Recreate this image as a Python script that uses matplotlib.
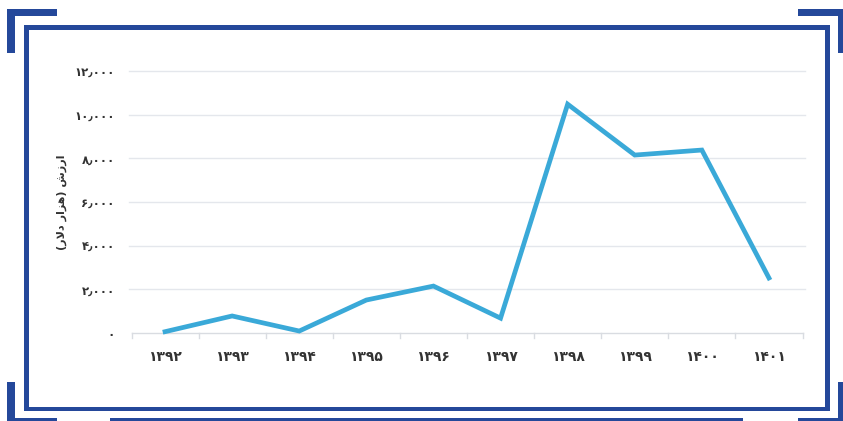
import matplotlib
matplotlib.use("Agg")
import matplotlib.pyplot as plt
from matplotlib.lines import Line2D
from matplotlib.patches import Rectangle

years = ["1392", "1393", "1394", "1395", "1396", "1397", "1398", "1399", "1400", "1401"]
values = [60, 780, 90, 1510, 2150, 680, 10480, 8150, 8380, 2520]
yticks = [0, 2000, 4000, 6000, 8000, 10000, 12000]

PD = str.maketrans("0123456789", "۰۱۲۳۴۵۶۷۸۹")

def fa_num(v):
    if v == 0:
        return "۰"
    s = f"{v:,}".replace(",", "٫")
    return s.translate(PD)

# "ارزش (هزار دلار)" pre-shaped in visual (left-to-right) order
ylabel = "(" + "\uFEAD\uFEFB\uFEA9" + " " + "\uFEAD\uFE8D\uFEB0\uFEEB" + ") " + "\uFEB5\uFEAF\uFEAD\uFE8D"

W, H = 843, 421
fig = plt.figure(figsize=(W / 100, H / 100), dpi=100)
fig.patch.set_facecolor("white")

# decoration layer in pixel coordinates
deco = fig.add_axes([0, 0, 1, 1])
deco.set_xlim(0, W)
deco.set_ylim(H, 0)
deco.axis("off")
blue = "#24489A"

def rect(x0, y0, x1, y1, c=blue):
    deco.add_patch(Rectangle((x0, y0), x1 - x0, y1 - y0, color=c, lw=0))

# inner box
rect(24, 25, 830, 30)
rect(24, 25, 29, 411)
rect(825, 25, 830, 411)
rect(24, 407, 830, 411)
# corner brackets
rect(7, 9, 57, 16)
rect(7, 9, 15, 53)
rect(798, 9, 843, 16)
rect(838, 9, 843, 53)
rect(7, 382, 15, 421)
rect(7, 418, 57, 421)
rect(838, 382, 843, 421)
rect(798, 418, 843, 421)
rect(110, 418, 743, 421)

# chart
ax = fig.add_axes([131.5 / W, 1 - 333 / H, (802.5 - 131.5) / W, (333 - 71) / H])
ax.set_facecolor("none")
x = list(range(len(years)))
ax.plot(x, values, color="#3AA9D8", lw=3.4, solid_joinstyle="miter", zorder=3, clip_on=False)
ax.set_xlim(-0.5, len(years) - 0.5)
ax.set_ylim(0, 12000)
ax.set_yticks(yticks)
ax.set_yticklabels([fa_num(v) for v in yticks], fontsize=8.5, fontweight="bold",
                   color="#333333", family="DejaVu Sans")
ax.set_xticks(x)
ax.set_xticklabels([y.translate(PD) for y in years], fontsize=10, fontweight="bold",
                   color="#333333", family="DejaVu Sans")
ax.tick_params(axis="y", length=0, pad=12)
ax.tick_params(axis="x", length=0, pad=12)
for v in yticks[1:]:
    ax.axhline(v, xmin=-0.003, xmax=1.004, color="#E4E7EC", lw=1.0, zorder=1, clip_on=False)
for s in ["top", "right", "left"]:
    ax.spines[s].set_visible(False)
ax.spines["bottom"].set_color("#D9DCE1")
ax.spines["bottom"].set_linewidth(1.0)
# category boundary ticks
for b in range(len(years) + 1):
    ax.add_line(Line2D([b - 0.5, b - 0.5], [0, -250], color="#D9DCE1", lw=1.0,
                       clip_on=False, zorder=1))
ax.set_ylabel(ylabel, fontsize=8, fontweight="bold", color="#333333",
              family="DejaVu Sans", labelpad=5)

fig.savefig("out.png", dpi=100, facecolor="white")
